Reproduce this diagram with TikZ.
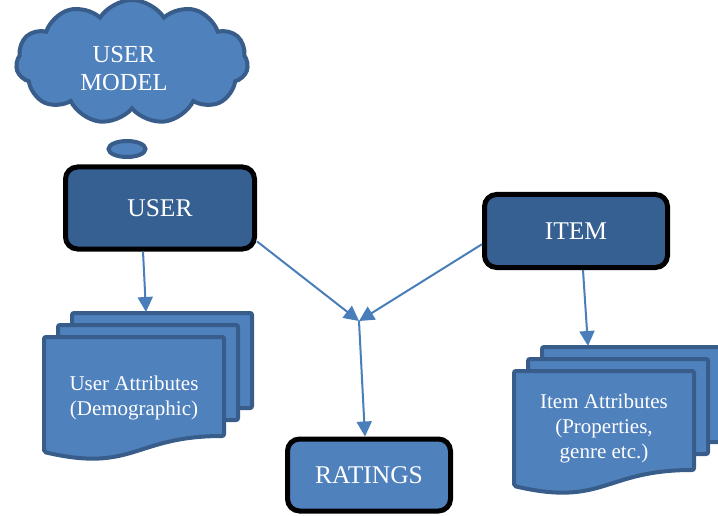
\documentclass[tikz,border=0pt]{standalone}
\usepackage{fontspec}
\setmainfont{Liberation Serif}
\usetikzlibrary{shapes,arrows.meta,calc}
\definecolor{boxdark}{RGB}{54,96,146}
\definecolor{boxlight}{RGB}{79,129,189}
\definecolor{sheetline}{RGB}{56,93,138}
\definecolor{linkblue}{RGB}{74,126,187}

% stack of three sheets, #1/#2 = top left of the front sheet
\newcommand{\sheetstack}[2]{%
  \foreach \k in {2,1}
    \draw[sheet] ({#1+14*\k},{#2-12*\k}) rectangle ++(180,95);
  \draw[sheet] (#1,#2) -- ++(180,0) -- ++(0,99)
    .. controls +(-90,0) and +(90,21) .. ++(-180,16) -- cycle;
}

\begin{document}
\begin{tikzpicture}
  [
    x=1pt, y=-1pt,
    block/.style =
      {draw=black, line width=5pt, rounded corners=12pt, text=white,
       align=center, font=\fontsize{25.5}{28}\selectfont},
    sheet/.style =
      {draw=sheetline, line width=4pt, fill=boxlight, rounded corners=2pt},
    bubble/.style =
      {draw=sheetline, line width=4pt, fill=boxlight},
    doctext/.style =
      {text=white, align=center, font=\fontsize{21}{25}\selectfont},
    link/.style =
      {draw=linkblue, line width=2pt, -{Triangle[length=15pt,width=15pt]}}
  ]
  \useasboundingbox (0,0) rectangle (718,516);

  \node [bubble, cloud, cloud puffs=11, cloud puff arc=115, cloud ignores aspect,
         minimum width=232, minimum height=124] at (132,62) (model) {};
  \node [doctext, font=\fontsize{24.5}{28}\selectfont] at (124,69) (modeltext) {USER\\MODEL};
  \node [bubble, ellipse, minimum width=37, minimum height=16] at (127,149) (puff) {};

  \node [block, fill=boxdark,  minimum width=189, minimum height=82] at (160,208) (user) {USER};
  \node [block, fill=boxdark,  minimum width=183, minimum height=73] at (576,231) (item) {ITEM};
  \node [block, fill=boxlight, minimum width=163, minimum height=72] at (369,475) (ratings) {RATINGS};

  \sheetstack{44}{337}
  \sheetstack{514}{371}
  \node [doctext] at (134,398) (uattr) {User Attributes\\(Demographic)};
  \node [doctext] at (604,428) (iattr) {Item Attributes\\(Properties,\\genre etc.)};

  \coordinate (utop) at (146,312);
  \coordinate (itop) at (588,346);
  \coordinate (join) at (359,321);

  \draw[link] ($(user.south)+(-17,0)$) -- (utop);
  \draw[link] (user.-19)                -- (join);
  \draw[link] (item.188)                -- (join);
  \draw[link] (join)                    -- ($(ratings.north)+(-4,0)$);
  \draw[link] ($(item.south)+(7,0)$)    -- (itop);

\end{tikzpicture}
\end{document}
